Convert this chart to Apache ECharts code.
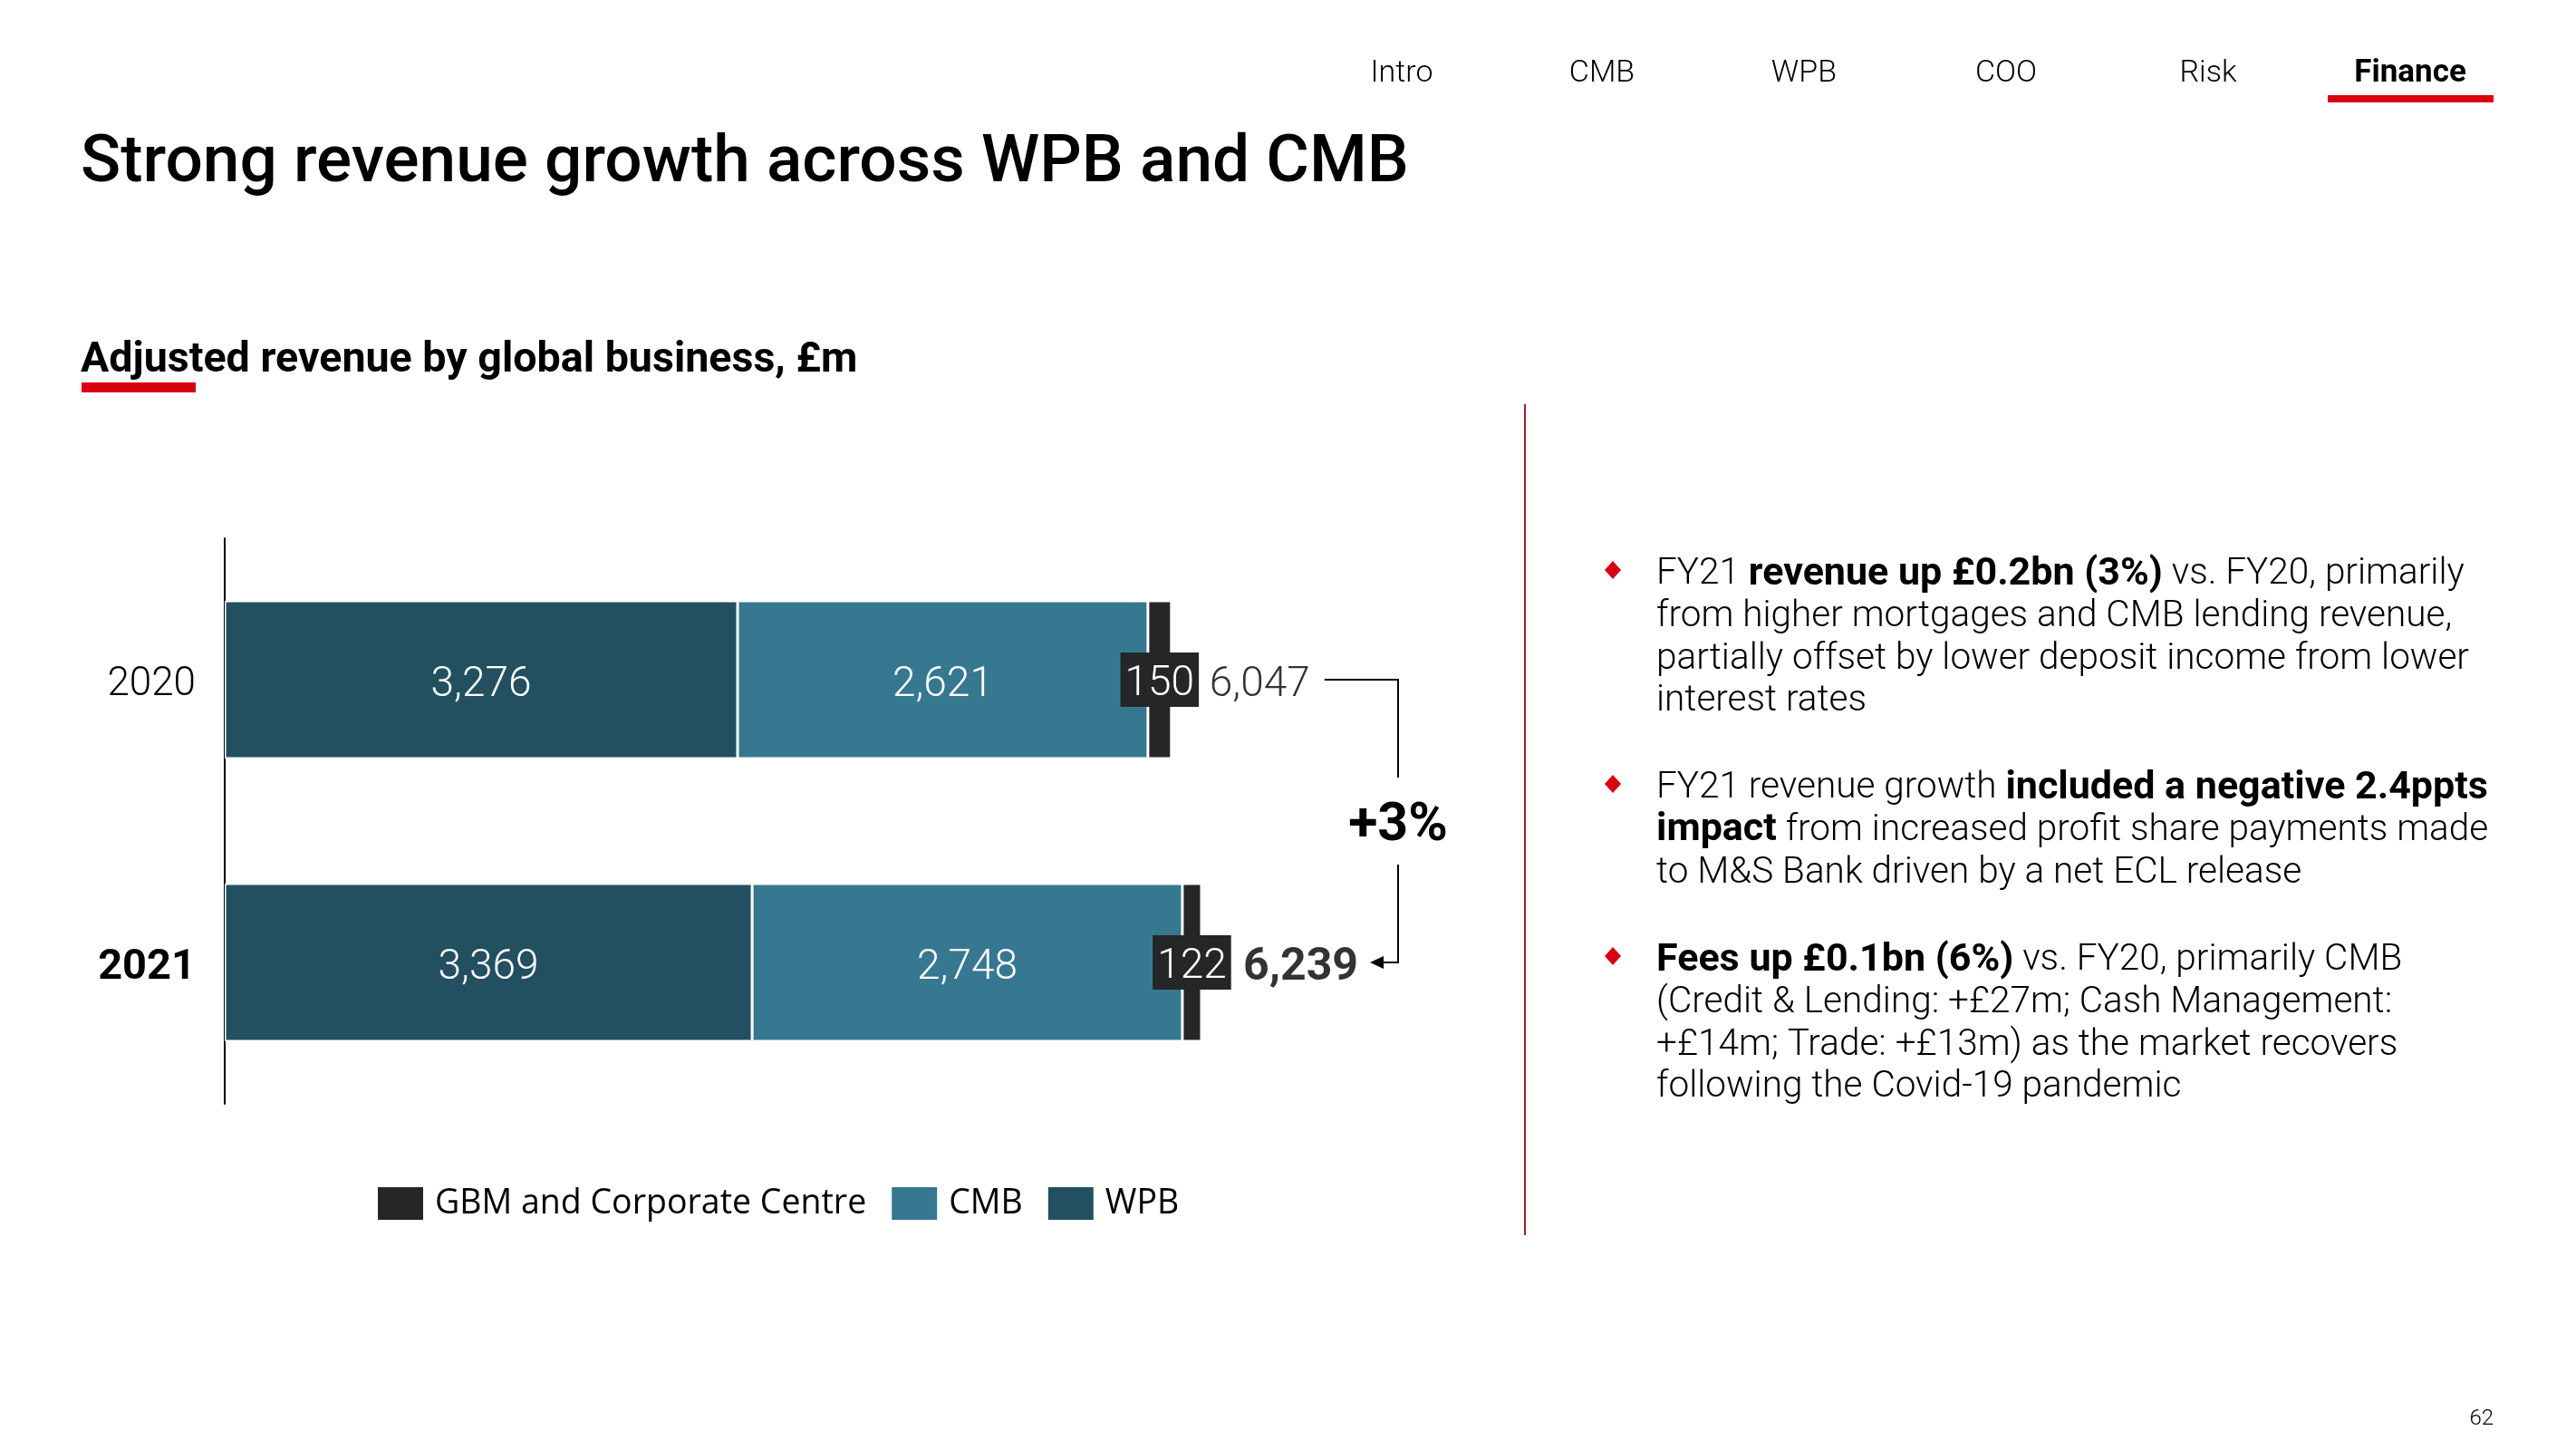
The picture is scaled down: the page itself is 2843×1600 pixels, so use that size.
<!DOCTYPE html>
<html><head><meta charset="utf-8">
<script src="https://cdn.jsdelivr.net/npm/echarts@6/dist/echarts.min.js"></script>
<style>html,body{margin:0;padding:0;background:#fff}#c{width:2843px;height:1600px}</style>
</head><body><div id="c"></div>
<script>
// ---- data ----
const years = ['2020', '2021'];
const wpb = [3276, 3369];
const cmb = [2621, 2748];
const gbm = [150, 122];
const totals = [6047, 6239];
const growthLabel = '+3%';
const seriesNames = ['WPB', 'CMB', 'GBM and Corporate Centre'];
const legendOrder = ['GBM and Corporate Centre', 'CMB', 'WPB'];
const navItems = ['Intro', 'CMB', 'WPB', 'COO', 'Risk', 'Finance'];
const activeNav = 'Finance';
const pageTitle = 'Strong revenue growth across WPB and CMB';
const chartTitle = 'Adjusted revenue by global business, £m';
const pageNumber = '62';
// bullets: each line is a list of [bold?, text] segments
const bullets = [
  [
    [[0, 'FY21 '], [1, 'revenue up £0.2bn (3%)'], [0, ' vs. FY20, primarily']],
    [[0, 'from higher mortgages and CMB lending revenue,']],
    [[0, 'partially offset by lower deposit income from lower']],
    [[0, 'interest rates']]
  ],
  [
    [[0, 'FY21 revenue growth '], [1, 'included a negative 2.4ppts']],
    [[1, 'impact'], [0, ' from increased profit share payments made']],
    [[0, 'to M&S Bank driven by a net ECL release']]
  ],
  [
    [[1, 'Fees up £0.1bn (6%)'], [0, ' vs. FY20, primarily CMB']],
    [[0, '(Credit & Lending: +£27m; Cash Management:']],
    [[0, '+£14m; Trade: +£13m) as the market recovers']],
    [[0, 'following the Covid-19 pandemic']]
  ]
];

// ---- styles ----
const C_WPB = '#235060', C_CMB = '#377891', C_GBM = '#262626';
const RED = '#db0011', DIV_RED = '#b4172c';
const FONT = 'Roboto';
const fmt = v => Number(v).toLocaleString('en-US');

const chart = echarts.init(document.getElementById('c'), null, {renderer: 'canvas'});

const valueLabel = {
  show: true, position: 'inside', color: '#fff', fontSize: 46, fontWeight: 300,
  fontFamily: FONT, offset: [0, 6], formatter: p => fmt(p.value)
};
const barCommon = {
  type: 'bar', stack: 'rev', barWidth: 174,
  itemStyle: {borderColor: '#fff', borderWidth: 1.5}
};

chart.setOption({
  animation: false,
  textStyle: {fontFamily: FONT},
  grid: {left: 248, top: 594, bottom: 382, right: 2843 - 248 - 8000 * 0.17278, containLabel: false},
  xAxis: {type: 'value', min: 0, max: 8000, show: false},
  yAxis: {
    type: 'category', data: years, inverse: true,
    axisLine: {show: true, lineStyle: {color: '#000', width: 2}},
    axisTick: {show: false},
    axisLabel: {
      margin: 32,
      formatter: v => v === years[years.length - 1] ? '{b|' + v + '}' : '{n|' + v + '}',
      rich: {
        n: {fontSize: 44, fontWeight: 300, color: '#000', fontFamily: FONT, padding: [12, 0, 0, 0]},
        b: {fontSize: 47, fontWeight: 'bold', color: '#000', fontFamily: FONT, padding: [12, 0, 0, 0]}
      }
    }
  },
  legend: {
    data: legendOrder, left: 415, top: 1308, itemWidth: 52, itemHeight: 38, itemGap: 26,
    icon: 'rect', padding: 0,
    textStyle: {fontSize: 37.5, fontFamily: 'Open Sans', color: '#000', padding: [0, 0, 0, 7]}
  },
  series: [
    Object.assign({}, barCommon, {name: seriesNames[0], data: wpb, itemStyle: Object.assign({}, barCommon.itemStyle, {color: C_WPB}), label: valueLabel}),
    Object.assign({}, barCommon, {name: seriesNames[1], data: cmb, itemStyle: Object.assign({}, barCommon.itemStyle, {color: C_CMB}), label: valueLabel}),
    Object.assign({}, barCommon, {
      name: seriesNames[2], data: gbm, itemStyle: Object.assign({}, barCommon.itemStyle, {color: C_GBM}),
      label: Object.assign({}, valueLabel, {
        offset: [0, 0], backgroundColor: C_GBM, padding: [7, 5, 7, 5],
        formatter: p => '{v|' + fmt(p.value) + '}',
        rich: {v: {fontSize: 46, fontWeight: 300, fontFamily: FONT, color: '#fff', lineHeight: 46, padding: [10, 0, 0, 0]}}
      })
    }),
    {
      type: 'scatter', name: 'Total', silent: true, symbolSize: 0,
      itemStyle: {color: 'rgba(0,0,0,0)'},
      data: totals.map((t, i) => {
        const last = i === totals.length - 1;
        return {value: [t, i], label: {distance: last ? 46 : 42, fontWeight: last ? 'bold' : 300, fontSize: last ? 50 : 46}};
      }),
      label: {
        show: true, position: 'right', color: '#000', fontSize: 46, fontFamily: FONT, offset: [0, 6],
        formatter: p => fmt(p.value[0])
      }
    }
  ]
});

// ---- annotations & page decorations ----
const g = [];
const txt = (x, y, text, o) => g.push({type: 'text', x, y, silent: true,
  style: Object.assign({text, fill: '#000', fontFamily: FONT, textVerticalAlign: 'middle'}, o)});

// nav
const navX = [1547, 1768, 1991, 2214, 2437, 2660];
navItems.forEach((n, i) => txt(navX[i], 81, n, {fontSize: n === activeNav ? 35 : 34, fontWeight: n === activeNav ? 'bold' : 300, textAlign: 'center'}));
const aIdx = navItems.indexOf(activeNav);
g.push({type: 'rect', shape: {x: navX[aIdx] - 91, y: 105, width: 183, height: 8}, style: {fill: RED}});

// titles
txt(89, 182, pageTitle, {fontSize: 73, fontWeight: 500});
txt(89, 398, chartTitle, {fontSize: 46.6, fontWeight: 'bold'});
g.push({type: 'rect', shape: {x: 90, y: 422, width: 126, height: 11}, style: {fill: RED}});

// divider
g.push({type: 'rect', shape: {x: 1682, y: 446, width: 2, height: 917}, style: {fill: DIV_RED}});

// bullets
const bulletStarts = [629, 865, 1055];
const lineH = 46.7;
bullets.forEach((b, bi) => {
  const y0 = bulletStarts[bi];
  g.push({type: 'polygon', shape: {points: [[1780, y0 - 10], [1789, y0], [1780, y0 + 10], [1771, y0]]}, style: {fill: RED}});
  b.forEach((line, li) => {
    const t = line.map(s => '{' + (s[0] ? 'b' : 'n') + '|' + s[1] + '}').join('');
    txt(1828, y0 + 5 + li * lineH, t, {
      rich: {
        n: {fontSize: 40.5, fontWeight: 300, fontFamily: FONT, fill: '#000'},
        b: {fontSize: 43, fontWeight: 'bold', fontFamily: FONT, fill: '#000'}
      }
    });
  });
});

// page number
txt(2752, 1566, pageNumber, {fontSize: 24, textAlign: 'right', fontWeight: 300});

// growth bracket from data positions
const p0 = chart.convertToPixel({gridIndex: 0}, [totals[0], 0]);
const p1 = chart.convertToPixel({gridIndex: 0}, [totals[1], 1]);
const bx = p1[0] + 217;
const midY = (p0[1] + p1[1]) / 2;
const ls = {stroke: '#000', lineWidth: 2};
g.push({type: 'polyline', shape: {points: [[p0[0] + 169, p0[1]], [bx, p0[1]], [bx, p0[1] + 108]]}, style: Object.assign({fill: null}, ls)});
g.push({type: 'polyline', shape: {points: [[bx, p1[1] - 108], [bx, p1[1]], [p1[0] + 196, p1[1]]]}, style: Object.assign({fill: null}, ls)});
g.push({type: 'polygon', shape: {points: [[p1[0] + 186, p1[1]], [p1[0] + 201, p1[1] - 7], [p1[0] + 201, p1[1] + 7]]}, style: {fill: '#000'}});
txt(bx, midY + 6, growthLabel, {fontSize: 59, fontWeight: 'bold', textAlign: 'center'});

chart.setOption({graphic: g});
</script></body></html>
